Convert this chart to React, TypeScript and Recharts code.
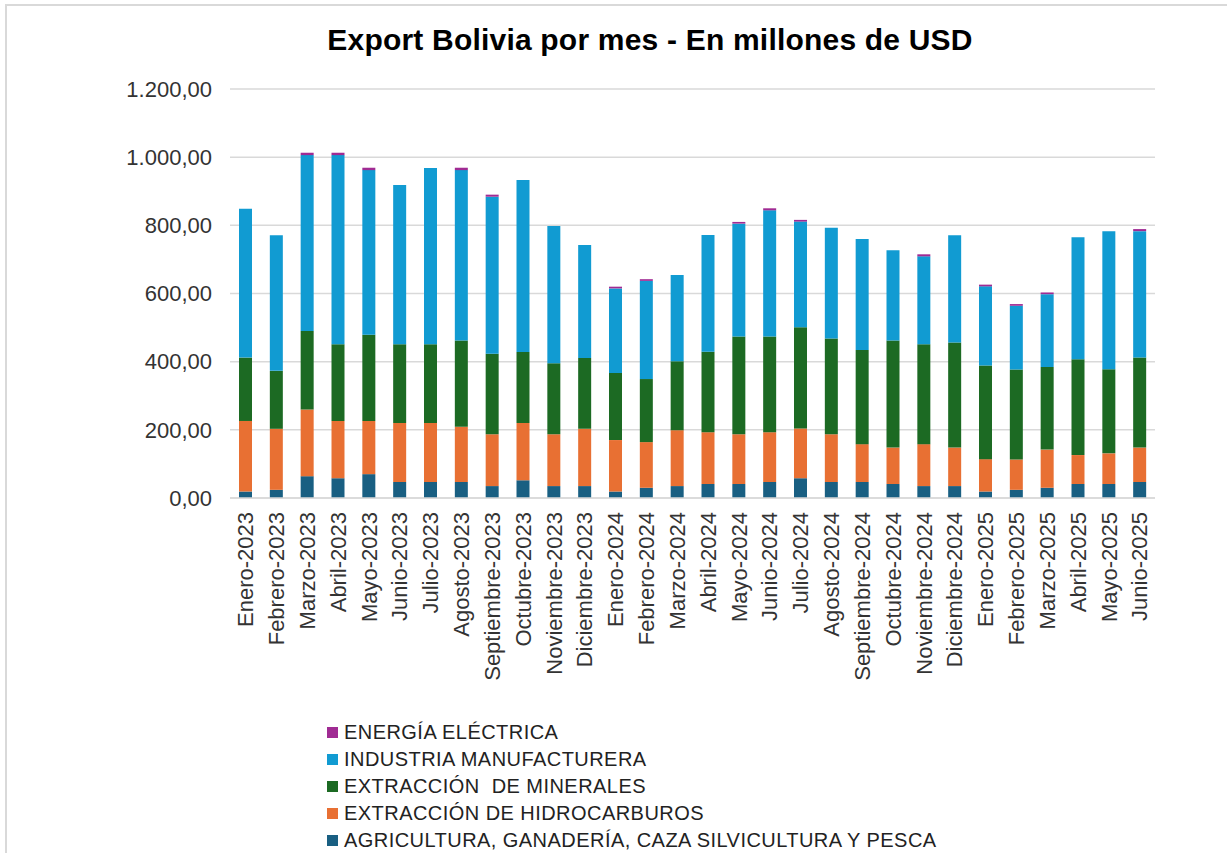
import { Bar, BarChart, CartesianGrid, XAxis, YAxis } from "recharts";

const months = [
  "Enero-2023", "Febrero-2023", "Marzo-2023", "Abril-2023", "Mayo-2023", "Junio-2023",
  "Julio-2023", "Agosto-2023", "Septiembre-2023", "Octubre-2023", "Noviembre-2023", "Diciembre-2023",
  "Enero-2024", "Febrero-2024", "Marzo-2024", "Abril-2024", "Mayo-2024", "Junio-2024",
  "Julio-2024", "Agosto-2024", "Septiembre-2024", "Octubre-2024", "Noviembre-2024", "Diciembre-2024",
  "Enero-2025", "Febrero-2025", "Marzo-2025", "Abril-2025", "Mayo-2025", "Junio-2025",
];

const agricultura = [19, 24, 64, 58, 70, 47, 47, 47, 35, 52, 35, 35, 19, 30, 35, 41, 41, 47, 58, 47, 47, 41, 35, 35, 19, 24, 30, 41, 41, 47];
const hidrocarburos = [207, 179, 196, 168, 156, 173, 173, 162, 152, 168, 152, 168, 151, 134, 164, 152, 146, 146, 146, 140, 111, 107, 123, 113, 95, 89, 112, 85, 90, 101];
const minerales = [186, 170, 230, 225, 253, 231, 231, 253, 236, 208, 208, 208, 197, 185, 202, 236, 287, 281, 297, 281, 276, 314, 293, 308, 275, 264, 242, 281, 247, 264];
const manufactura = [437, 398, 516, 555, 483, 467, 517, 500, 461, 505, 403, 331, 248, 288, 253, 343, 331, 370, 310, 325, 326, 265, 258, 315, 232, 187, 214, 358, 405, 371];
const energia = [0, 0, 7, 7, 7, 0, 0, 7, 6, 0, 0, 0, 5, 5, 0, 0, 5, 6, 5, 0, 0, 0, 6, 0, 5, 5, 5, 0, 0, 6];

const yTicks = [0, 200, 400, 600, 800, 1000, 1200];

// stacking order bottom -> top
const series = [
  { key: "agricultura", name: "AGRICULTURA, GANADERÍA, CAZA SILVICULTURA Y PESCA", color: "#195f82" },
  { key: "hidrocarburos", name: "EXTRACCIÓN DE HIDROCARBUROS", color: "#e87033" },
  { key: "minerales", name: "EXTRACCIÓN  DE MINERALES", color: "#1c6a23" },
  { key: "manufactura", name: "INDUSTRIA MANUFACTURERA", color: "#119bd2" },
  { key: "energia", name: "ENERGÍA ELÉCTRICA", color: "#a02b93" },
];

const data = months.map((m, i) => ({
  mes: m,
  agricultura: agricultura[i],
  hidrocarburos: hidrocarburos[i],
  minerales: minerales[i],
  manufactura: manufactura[i],
  energia: energia[i],
}));

const font = "'Liberation Sans', Arial, sans-serif";

function fmt(v: number) {
  const s = Math.round(v).toString().replace(/\B(?=(\d{3})+(?!\d))/g, ".");
  return s + ",00";
}

function MonthTick({ x, y, payload }: any) {
  return (
    <text
      x={x}
      y={y}
      transform={`rotate(-90 ${x} ${y})`}
      textAnchor="end"
      dy="0.36em"
      fontSize={22}
      fontFamily={font}
      fill="#333"
    >
      {payload.value}
    </text>
  );
}

export default function App() {
  return (
    <div style={{ position: "absolute", left: 0, top: 0, width: 1227, height: 853, background: "#fff", fontFamily: font }}>
      <div style={{ position: "absolute", left: 5, top: 4, width: 1222, height: 849, borderTop: "2px solid #d9d9d9", borderLeft: "2px solid #d9d9d9" }} />
      <div style={{ position: "absolute", left: 0, top: 23, width: 1300, textAlign: "center", fontSize: 30, fontWeight: "bold", color: "#000", letterSpacing: 0.2 }}>
        Export Bolivia por mes - En millones de USD
      </div>
      <BarChart
        width={1227}
        height={853}
        data={data}
        margin={{ top: 89, right: 72, left: 0, bottom: 0 }}
        barSize={13}
        style={{ position: "absolute", left: 0, top: 0 }}
      >
        <CartesianGrid vertical={false} stroke="#d9d9d9" strokeWidth={1.5} />
        <XAxis
          dataKey="mes"
          interval={0}
          height={355}
          axisLine={{ stroke: "#d9d9d9", strokeWidth: 1.5 }}
          tickLine={false}
          tickSize={0}
          tickMargin={14}
          tick={<MonthTick />}
        />
        <YAxis
          width={230}
          domain={[0, 1200]}
          ticks={yTicks}
          tickFormatter={fmt}
          axisLine={false}
          tickLine={false}
          tickSize={0}
          tickMargin={18}
          tick={{ fontSize: 22, fontFamily: font, fill: "#333" }}
        />
        {series.map((s) => (
          <Bar key={s.key} dataKey={s.key} name={s.name} stackId="a" fill={s.color} isAnimationActive={false} />
        ))}
      </BarChart>
      <div style={{ position: "absolute", left: 327, top: 719 }}>
        {[...series].reverse().map((s) => (
          <div key={s.key} style={{ display: "flex", alignItems: "center", height: 27, fontSize: 20, letterSpacing: 0.45, color: "#222", whiteSpace: "pre" }}>
            <span style={{ display: "inline-block", width: 11, height: 11, background: s.color, marginRight: 6 }} />
            {s.name}
          </div>
        ))}
      </div>
    </div>
  );
}
